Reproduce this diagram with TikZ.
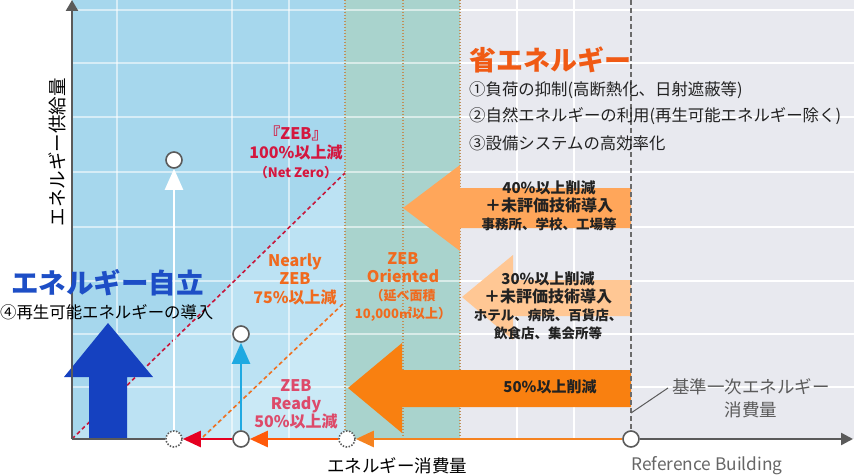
\documentclass[tikz,border=0pt]{standalone}
\usepackage{fontspec}
\setmainfont{Noto Sans CJK JP}
\usetikzlibrary{arrows.meta}
\definecolor{bluebg}{HTML}{A6D7ED}
\definecolor{bluelight}{HTML}{BCE2F3}
\definecolor{bluelighter}{HTML}{CAE9F6}
\definecolor{tealbg}{HTML}{A9D3CD}
\definecolor{graybg}{HTML}{E8E9EF}
\definecolor{dotcol}{HTML}{C0905A}
\definecolor{axisgray}{HTML}{5A5A5A}
\definecolor{redline}{HTML}{C8163A}
\definecolor{orline}{HTML}{F07020}
\definecolor{arrA}{HTML}{FFA65A}
\definecolor{arrB}{HTML}{FFC794}
\definecolor{arrC}{HTML}{F98010}
\definecolor{bigblue}{HTML}{1541C0}
\definecolor{bluetext}{HTML}{1D4EC6}
\definecolor{cyanarr}{HTML}{1FA9E1}
\definecolor{redtext}{HTML}{D4173F}
\definecolor{oratext}{HTML}{F06A1E}
\definecolor{pinktext}{HTML}{DD4A6A}
\definecolor{titleor}{HTML}{F05A14}
\definecolor{botA}{HTML}{F5821F}
\definecolor{botB}{HTML}{FF5A0A}
\definecolor{botC}{HTML}{E50020}
\definecolor{txtgray}{HTML}{666666}
\definecolor{txtdark}{HTML}{222222}
\begin{document}
\begin{tikzpicture}[x=1pt,y=-1pt,
  gridline/.style={white, line width=1.2pt, opacity=0.55},
  gridlinegray/.style={white, line width=1.5pt},
  dotline/.style={dotcol, line width=1.4pt, dash pattern=on 1.4pt off 1.6pt},
  ptsolid/.style={circle, draw=axisgray, fill=white, line width=1.6pt, minimum size=16pt, inner sep=0pt},
  ptdot/.style={circle, draw=axisgray, fill=white, line width=1.6pt, dash pattern=on 1.5pt off 1.5pt, minimum size=16pt, inner sep=0pt},
  axisline/.style={axisgray, line width=2.5pt},
  botarr/.style={line width=2.5pt, -{Triangle[length=18pt,width=16pt]}},
  uparr/.style={line width=2.3pt, -{Triangle[length=21pt,width=18pt]}},
  txt/.style={inner sep=0pt, align=center},
]
\useasboundingbox (0,0) rectangle (854,476);
\fill[white] (0,0) rectangle (854,476);
% regions
\fill[bluebg] (72,0) rectangle (345,439);
\fill[bluelight] (72,439) -- (345,173) -- (345,439) -- cycle;
\fill[bluelighter] (203,439) -- (345,302) -- (345,439) -- cycle;
\fill[tealbg] (345,0) rectangle (460,439);
\fill[graybg] (460,0) rectangle (854,439);
% grid
\foreach \y in {10,63,117,172,227,281,334,387} {
  \draw[gridline] (72,\y) -- (460,\y);
  \draw[gridlinegray] (460,\y) -- (854,\y);
}
\foreach \x in {117,232,289} \draw[gridline] (\x,0) -- (\x,439);
\foreach \x in {517,574} \draw[gridlinegray] (\x,0) -- (\x,439);
% dotted separators
\foreach \x in {345,403,460} \draw[dotline] (\x,0) -- (\x,439);
% ZEB boundary lines
\coordinate (origin) at (72,439);
\coordinate (redEnd) at (345,173);
\coordinate (orStart) at (203,437);
\coordinate (orEnd) at (345,302);
\draw[redline, line width=1.6pt, dash pattern=on 4pt off 3pt] (origin) -- (redEnd);
\draw[orline, line width=1.6pt, dash pattern=on 4pt off 3pt] (orStart) -- (orEnd);
% big orange arrows
\fill[arrA] (403,208) -- (460,165) -- (460,188) -- (631,188) -- (631,228) -- (460,228) -- (460,251) -- cycle;
\fill[arrB] (462,297) -- (513,255) -- (513,280) -- (631,280) -- (631,316) -- (513,316) -- (513,340) -- cycle;
\fill[arrC] (348,388) -- (402,343) -- (402,370) -- (631,370) -- (631,407) -- (402,407) -- (402,433) -- cycle;
% big blue arrow
\fill[bigblue] (89,439) -- (89,377) -- (64,377) -- (108,323) -- (153,377) -- (127,377) -- (127,439) -- cycle;
% points
\node[ptdot] (c1) at (174,439) {};
\node[ptsolid] (c2) at (241,439) {};
\node[ptdot] (c3) at (347,439) {};
\node[ptsolid] (c4) at (631,439) {};
\node[ptsolid] (t1) at (174,160) {};
\node[ptsolid] (t2) at (241,334) {};
% reference dashed line
\coordinate (refTop) at (631,0);
\draw[axisgray!90, line width=1.5pt, dash pattern=on 5pt off 3pt] (refTop) -- (c4);
% axes
\coordinate (ytop) at (72,0);
\coordinate (xend) at (853,439);
\draw[axisline, -{Triangle[length=11pt,width=12pt]}] (origin) -- (ytop);
\draw[axisline] (origin) -- (c1);
\draw[axisline, -{Triangle[length=12pt,width=12pt]}] (c4) -- (xend);
% connectors
\draw[botarr, botA] (c4) -- (c3);
\draw[botarr, botB] (c3) -- (c2);
\draw[botarr, botC] (c2) -- (c1);
\draw[uparr, white] (c1) -- (t1);
\draw[uparr, cyanarr] (c2) -- (t2);
% leader
\coordinate (leadA) at (631,413);
\coordinate (leadB) at (668,388);
\draw[axisgray, line width=1pt] (leadA) -- (leadB);
% texts
\node[txt, font=\fontsize{27}{30}\selectfont\bfseries, text=titleor, anchor=west] (saveTitle) at (469,60) {省エネルギー};
\node[txt, font=\fontsize{16.4}{18}\selectfont, text=txtdark, anchor=west] (item1) at (469,90) {①負荷の抑制(高断熱化、日射遮蔽等)};
\node[txt, font=\fontsize{16.4}{18}\selectfont, text=txtdark, anchor=west] (item2) at (469,116) {②自然エネルギーの利用(再生可能エネルギー除く)};
\node[txt, font=\fontsize{16.4}{18}\selectfont, text=txtdark, anchor=west] (item3) at (469,143) {③設備システムの高効率化};
\node[txt, font=\fontsize{27.5}{30}\selectfont\bfseries, text=bluetext, anchor=west] (selfTitle) at (11,283) {エネルギー自立};
\node[txt, font=\fontsize{16.4}{18}\selectfont, text=black, anchor=west] (item4) at (0,312) {④再生可能エネルギーの導入};
\node[txt, font=\fontsize{18.5}{20}\selectfont, rotate=90] (ylab) at (57,152) {エネルギー供給量};
\node[txt, font=\fontsize{17.5}{20}\selectfont] (xlab) at (397,466) {エネルギー消費量};
\node[txt, font=\fontsize{17.3}{20}\selectfont, text=txtgray] (reflab) at (707,466) {Reference Building};
\node[txt, font=\fontsize{17.5}{23}\selectfont, text=axisgray] (stdlab) at (751,398) {基準一次エネルギー\\消費量};
\node[txt, font=\fontsize{16}{19}\selectfont\bfseries, text=redtext] (zebtxt) at (296,152) {『ZEB』\\100\%以上減\\{\fontsize{13}{19}\selectfont （Net Zero）}};
\node[txt, font=\fontsize{16}{18.5}\selectfont\bfseries, text=oratext] (nearlytxt) at (295,279) {Nearly\\ZEB\\75\%以上減};
\node[txt, font=\fontsize{16}{18}\selectfont\bfseries, text=pinktext] (readytxt) at (296,404) {ZEB\\Ready\\50\%以上減};
\node[txt, font=\fontsize{16}{18}\selectfont\bfseries, text=oratext] (orientedtxt) at (403,287) {ZEB\\Oriented\\{\fontsize{13}{18}\selectfont （延べ面積}\\{\fontsize{13}{18}\selectfont 10,000㎡以上）}};
\node[txt, font=\fontsize{15}{18}\selectfont\bfseries, text=txtdark] (a40txt) at (549,206) {40\%以上削減\\{\fontsize{16}{18}\selectfont ＋未評価技術導入}\\{\fontsize{13.5}{17}\selectfont 事務所、学校、工場等}};
\node[txt, font=\fontsize{15}{18}\selectfont\bfseries, text=txtdark] (a30txt) at (548,306) {30\%以上削減\\{\fontsize{16}{18}\selectfont ＋未評価技術導入}\\{\fontsize{13.5}{18}\selectfont ホテル、病院、百貨店、}\\{\fontsize{13.5}{18}\selectfont 飲食店、集会所等}};
\node[txt, font=\fontsize{15}{18}\selectfont\bfseries, text=txtdark] (a50txt) at (550,387) {50\%以上削減};
\end{tikzpicture}
\end{document}
